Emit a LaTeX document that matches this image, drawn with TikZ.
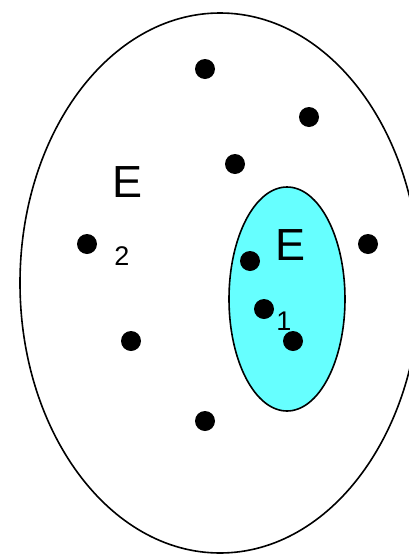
\documentclass[tikz,border=0pt]{standalone}
\usepackage{fontspec}
\setmainfont{Liberation Sans}
\definecolor{setcyan}{HTML}{66FFFF}
\tikzset{
  pt/.style={circle,fill=black,inner sep=0pt,minimum size=20pt},
  bigE/.style={inner sep=0pt,font=\fontsize{45}{45}\selectfont},
  sub/.style={inner sep=0pt,font=\fontsize{27}{27}\selectfont},
  setline/.style={line width=1.6pt}
}
\begin{document}
\begin{tikzpicture}[x=1pt,y=-1pt]
\useasboundingbox (0,0) rectangle (409,555);
\draw[setline] (220,283) ellipse [x radius=200, y radius=270];
\draw[setline,fill=setcyan] (287,299) ellipse [x radius=58, y radius=112];
\node[pt] (p1) at (205,69) {};
\node[pt] (p2) at (309,117) {};
\node[pt] (p3) at (235,164) {};
\node[pt] (p4) at (87,244) {};
\node[pt] (p5) at (368,244) {};
\node[pt] (p6) at (250,261) {};
\node[pt] (p7) at (264,309) {};
\node[pt] (p8) at (293,341) {};
\node[pt] (p9) at (131,341) {};
\node[pt] (p10) at (205,421) {};
\node[bigE] (e2) at (128,182) {E};
\node[sub] (s2) at (122,256) {2};
\node[bigE] (e1) at (291,245) {E};
\node[sub] (s1) at (284,321) {1};
\end{tikzpicture}
\end{document}
